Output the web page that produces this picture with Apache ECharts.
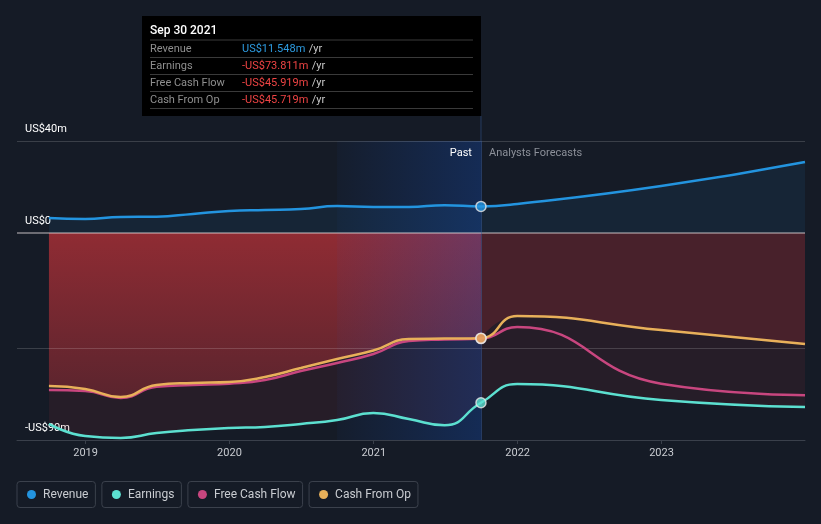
<!DOCTYPE html>
<html><head><meta charset="utf-8">
<script src="https://cdn.jsdelivr.net/npm/echarts@6/dist/echarts.min.js"></script>
<style>html,body{margin:0;padding:0;background:#151b26;}#c{width:821px;height:524px;}</style>
</head><body><div id="c"></div>
<script>
// ---- data (US$ millions) ----
const pastDates = ['2018-09-30','2018-12-31','2019-03-31','2019-06-30','2019-09-30','2019-12-31','2020-03-31','2020-06-30','2020-09-30','2020-12-31','2021-03-31','2021-06-30','2021-09-30'];
const forecastDates = ['2021-12-31','2022-12-31','2023-12-31'];
const revenuePast   = [6.5, 6.1, 7.0, 7.1, 8.3, 9.6, 10.0, 10.4, 11.7, 11.3, 11.3, 12.1, 11.548];
const revenueFcst   = [12.6, 20.4, 30.9];
const earningsPast  = [-83.0, -88.3, -89.1, -87.0, -85.7, -84.8, -84.3, -83.0, -81.3, -78.3, -80.9, -83.6, -73.811];
const earningsFcst  = [-65.7, -72.6, -75.7];
const fcfPast       = [-68.3, -68.7, -71.7, -66.9, -66.1, -65.5, -63.9, -60.0, -56.5, -52.6, -47.0, -46.3, -45.919];
const fcfFcst       = [-40.9, -65.5, -70.5];
const cfoPast       = [-66.5, -67.8, -71.3, -66.1, -65.2, -64.8, -62.6, -58.7, -54.8, -51.1, -46.1, -45.9, -45.719];
const cfoFcst       = [-36.1, -42.2, -48.3];
const yLabelTicks   = [40, 0, -90];
const gridTicks     = [40, -50];
const bandStart     = '2020-09-30';
const tipTitle      = 'Sep 30 2021';

const C = {rev:'#2394df', earn:'#5ce0d0', fcf:'#c8467f', cfo:'#e8b05a'};
const lastDate = pastDates[pastDates.length-1];
const pts = (d, v) => d.map((x, i) => [x, v[i]]);
const full = (p, f) => pts(pastDates, p).concat(pts(forecastDates, f));
const fcstWithLast = (p, f) => [[lastDate, p[p.length-1]]].concat(pts(forecastDates, f));
const fmt = v => (v < 0 ? '-' : '') + 'US$' + Math.abs(v).toFixed(3) + 'm';
const last = a => a[a.length-1];

const chart = echarts.init(document.getElementById('c'), null, {renderer:'canvas'});
const FONT = 'Roboto, "Noto Sans", sans-serif';

const lineSeries = (name, data, color, width, extra) => Object.assign({
  name, type:'line', data, smooth:0.5, symbol:'none', z:6,
  lineStyle:{color, width}, itemStyle:{color}, silent:true
}, extra || {});

const dot = c => ({width:9, height:9, borderRadius:4.5, backgroundColor:c});

const option = {
  backgroundColor:'#151b26',
  animation:false,
  textStyle:{fontFamily:FONT},
  grid:{left:17, right:16, top:141, bottom:84},
  xAxis:{
    type:'time', min:'2018-07-11', max:'2023-12-31',
    splitNumber:6,
    axisLine:{onZero:false, lineStyle:{color:'#3a404b', width:1}},
    axisTick:{show:true, length:4, lineStyle:{color:'#3a404b'}},
    splitLine:{show:false},
    axisLabel:{color:'#c9ccd1', fontSize:11, margin:8,
      formatter: v => { const d = new Date(v); return (d.getMonth()===0 && d.getDate()===1 && d.getFullYear() < 2024) ? String(d.getFullYear()) : ''; }
    }
  },
  yAxis:{
    type:'value', min:-90, max:40, interval:10,
    axisLine:{show:false}, axisTick:{show:false}, splitLine:{show:false},
    axisLabel:{inside:true, margin:8, color:'#ffffff', fontSize:11, verticalAlign:'bottom', padding:[0,0,6,0],
      formatter: v => yLabelTicks.includes(v) ? (v < 0 ? '-US$' + Math.abs(v) + 'm' : (v === 0 ? 'US$0' : 'US$' + v + 'm')) : ''
    }
  },
  legend:{
    left:7, top:476, icon:'none', itemWidth:0, itemHeight:0, itemGap:1,
    selectedMode:false,
    data:['Revenue','Earnings','Free Cash Flow','Cash From Op'],
    formatter: n => {
      const k = {'Revenue':'r','Earnings':'e','Free Cash Flow':'f','Cash From Op':'c'}[n];
      return '{' + k + '| }{t|' + n + '}';
    },
    textStyle:{
      borderColor:'#3b414c', borderWidth:1, borderRadius:3, padding:[6,7,6,10], lineHeight:14,
      rich:{
        r:dot(C.rev), e:dot(C.earn), f:dot(C.fcf), c:dot(C.cfo),
        t:{color:'#c9ccd1', fontSize:12, fontFamily:FONT, padding:[0,0,0,7], lineHeight:14}
      }
    }
  },
  series:[
    // fills
    {type:'line', data:pts(pastDates, cfoPast), smooth:0.5, symbol:'none', z:2, silent:true,
      lineStyle:{width:0},
      areaStyle:{color:new echarts.graphic.LinearGradient(0,0,0,1,[
        {offset:0, color:'rgba(205,52,58,0.9)'},{offset:1, color:'rgba(205,52,58,0.45)'}])}},
    {type:'line', data:fcstWithLast(cfoPast, cfoFcst), smooth:0.5, symbol:'none', z:2, silent:true,
      lineStyle:{width:0},
      areaStyle:{color:'rgba(205,52,58,0.30)'}},
    {type:'line', data:full(earningsPast, earningsFcst), smooth:0.5, symbol:'none', z:1, silent:true,
      lineStyle:{width:0}, areaStyle:{color:'rgba(200,52,58,0.14)'}},
    {type:'line', data:full(revenuePast, revenueFcst), smooth:0.5, symbol:'none', z:1, silent:true,
      lineStyle:{width:0}, areaStyle:{color:'rgba(35,148,223,0.13)'}},
    // overlay band + grid lines
    {type:'line', data:[[lastDate, 0]], symbol:'none', z:3, silent:true, lineStyle:{width:0},
      markArea:{silent:true, z:3, data:[[{xAxis:bandStart},{xAxis:lastDate}]],
        itemStyle:{color:new echarts.graphic.LinearGradient(0,0,1,0,[
          {offset:0, color:'rgba(20,90,220,0.04)'},{offset:1, color:'rgba(20,90,220,0.26)'}])}},
      markLine:{silent:true, symbol:'none', label:{show:false},
        data:[
          ...gridTicks.map(v => ({yAxis:v, lineStyle:{color:'rgba(255,255,255,0.16)', width:1, type:'solid'}})),
          {yAxis:0, lineStyle:{color:'rgba(235,225,225,0.55)', width:1.5, type:'solid'}},
          {xAxis:lastDate, lineStyle:{color:'rgba(60,100,170,0.45)', width:1, type:'solid'}}
        ]}},
    // lines
    lineSeries('Revenue', full(revenuePast, revenueFcst), C.rev, 2.5),
    lineSeries('Earnings', full(earningsPast, earningsFcst), C.earn, 2.5),
    lineSeries('Free Cash Flow', full(fcfPast, fcfFcst), C.fcf, 2.5),
    lineSeries('Cash From Op', full(cfoPast, cfoFcst), C.cfo, 2.5),
    // markers at last reported point
    {type:'scatter', z:8, silent:true, symbolSize:10,
      data:[
        {value:[lastDate, last(revenuePast)], itemStyle:{color:C.rev}},
        {value:[lastDate, last(earningsPast)], itemStyle:{color:C.earn}},
        {value:[lastDate, last(fcfPast)], itemStyle:{color:C.fcf}},
        {value:[lastDate, last(cfoPast)], itemStyle:{color:C.cfo}}
      ],
      itemStyle:{borderColor:'#e8e8e8', borderWidth:1.5}}
  ]
};
chart.setOption(option);

const xEnd = chart.convertToPixel({gridIndex:0}, [lastDate, 0])[0];
const rows = [
  ['Revenue', fmt(last(revenuePast)), 'b'],
  ['Earnings', fmt(last(earningsPast)), 'n'],
  ['Free Cash Flow', fmt(last(fcfPast)), 'n'],
  ['Cash From Op', fmt(last(cfoPast)), 'n']
];
const g = [
  {type:'rect', shape:{x:142, y:16, width:xEnd-142, height:100}, style:{fill:'#000000'}, z:10},
  {type:'line', shape:{x1:xEnd, y1:116, x2:xEnd, y2:141}, style:{stroke:'rgba(60,100,170,0.45)', lineWidth:1}, z:10},
  {type:'text', x:150, y:31, z:11, style:{text:tipTitle, fill:'#ffffff', font:'500 12px ' + FONT, verticalAlign:'middle'}},
  {type:'text', x:xEnd-9, y:153, z:11, style:{text:'Past', fill:'#ffffff', font:'11px ' + FONT, align:'right', verticalAlign:'middle'}},
  {type:'text', x:xEnd+8, y:153, z:11, style:{text:'Analysts Forecasts', fill:'#8c9099', font:'11px ' + FONT, align:'left', verticalAlign:'middle'}}
];
[40, 57.5, 74.5, 91.5, 108.5].forEach(y => g.push({type:'line', z:11, shape:{x1:150, y1:y, x2:xEnd-8, y2:y}, style:{stroke:'#3a3a3a', lineWidth:1}}));
rows.forEach((r, i) => {
  const y = 49 + i * 17;
  g.push({type:'text', x:150, y, z:11, style:{text:r[0], fill:'#8f8f8f', font:'11px ' + FONT, verticalAlign:'middle'}});
  g.push({type:'text', x:242, y, z:11, style:{text:'{' + r[2] + '|' + r[1] + '} {u|/yr}', verticalAlign:'middle',
    rich:{b:{fill:'#2d9be0', font:'11px ' + FONT}, n:{fill:'#ee4444', font:'11px ' + FONT}, u:{fill:'#c8c8c8', font:'11px ' + FONT}}}});
});
chart.setOption({graphic:g});
</script></body></html>
